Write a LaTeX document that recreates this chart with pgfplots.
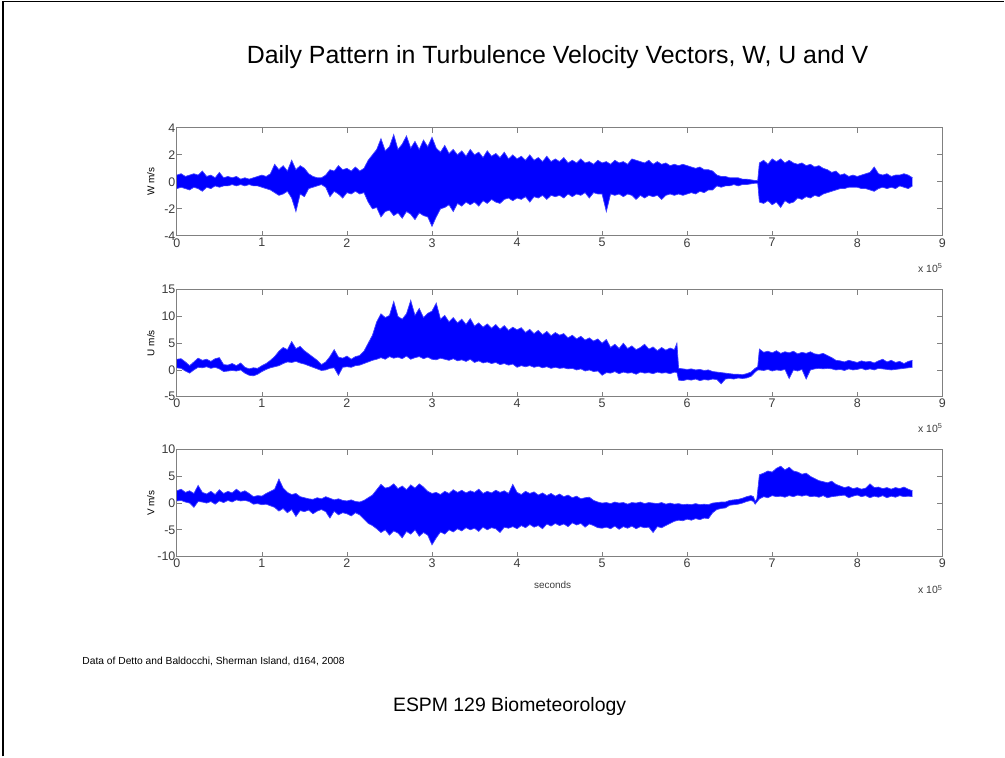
\documentclass[border=0pt]{standalone}
\usepackage{pgfplots}
\pgfplotsset{compat=1.18}
\usepackage{pgfplotstable}
\usepgfplotslibrary{fillbetween}
\usepackage{fontspec}
\setmainfont{Liberation Sans}

% envelopes, x in units of 1e5 s
\pgfplotstableread{
x hi lo
0.00 0.5 -0.5
0.05 0.6 -0.4
0.10 0.4 -0.5
0.15 0.5 -0.6
0.20 0.6 -0.4
0.25 0.5 -0.5
0.30 0.8 -0.7
0.35 0.4 -0.4
0.40 0.5 -0.5
0.45 0.3 -0.3
0.50 0.7 -0.4
0.55 0.3 -0.3
0.60 0.4 -0.3
0.65 0.3 -0.2
0.70 0.4 -0.3
0.75 0.2 -0.2
0.80 0.3 -0.3
0.85 0.2 -0.2
0.90 0.3 -0.3
0.95 0.4 -0.3
1.00 0.5 -0.4
1.05 0.4 -0.5
1.10 0.6 -0.6
1.15 1.3 -0.8
1.20 0.9 -1.0
1.25 1.2 -0.9
1.30 0.8 -0.7
1.35 1.6 -1.2
1.40 0.9 -2.2
1.45 1.2 -0.9
1.50 1.0 -1.1
1.55 0.6 -0.5
1.60 0.4 -0.4
1.65 0.3 -0.3
1.70 0.3 -0.2
1.75 0.5 -0.4
1.80 0.9 -1.1
1.85 0.8 -0.7
1.90 1.2 -0.9
1.95 0.9 -1.2
2.00 1.0 -0.8
2.05 0.8 -0.9
2.10 1.1 -0.7
2.15 0.8 -0.9
2.20 1.0 -0.8
2.25 1.6 -1.5
2.30 2.0 -2.0
2.35 2.4 -1.9
2.40 3.2 -2.6
2.45 2.3 -2.2
2.50 2.6 -2.1
2.55 3.5 -2.5
2.60 2.4 -2.3
2.65 2.8 -2.7
2.70 3.4 -2.2
2.75 2.5 -2.4
2.80 3.0 -2.8
2.85 2.4 -2.3
2.90 3.1 -2.5
2.95 2.6 -2.6
3.00 3.3 -3.3
3.05 2.5 -2.6
3.10 2.2 -2.0
3.15 2.7 -1.9
3.20 2.1 -1.7
3.25 2.4 -2.2
3.30 2.0 -1.6
3.35 2.3 -1.8
3.40 1.9 -1.5
3.45 2.4 -1.7
3.50 2.0 -1.5
3.55 2.2 -1.8
3.60 1.8 -1.4
3.65 2.3 -1.6
3.70 1.9 -1.3
3.75 2.1 -1.5
3.80 1.8 -1.6
3.85 2.2 -1.3
3.90 1.7 -1.2
3.95 2.0 -1.4
4.00 1.7 -1.2
4.05 1.9 -1.3
4.10 1.6 -1.1
4.15 2.0 -1.5
4.20 1.6 -1.1
4.25 1.8 -1.2
4.30 1.5 -1.0
4.35 1.9 -1.3
4.40 1.5 -1.0
4.45 1.7 -1.1
4.50 1.5 -1.0
4.55 1.8 -1.2
4.60 1.4 -0.9
4.65 1.6 -1.1
4.70 1.4 -0.9
4.75 1.7 -1.0
4.80 1.4 -0.8
4.85 1.5 -1.2
4.90 1.3 -0.8
4.95 1.6 -0.9
5.00 1.4 -0.9
5.05 1.5 -2.2
5.10 1.3 -0.9
5.15 1.6 -1.0
5.20 1.4 -0.9
5.25 1.5 -1.1
5.30 1.3 -0.9
5.35 1.7 -1.0
5.40 1.6 -1.3
5.45 1.5 -1.0
5.50 1.4 -1.2
5.55 1.6 -1.0
5.60 1.3 -1.1
5.65 1.5 -1.0
5.70 1.3 -1.3
5.75 1.4 -1.0
5.80 1.2 -0.9
5.85 1.3 -1.0
5.90 1.2 -0.9
5.95 1.3 -1.0
6.00 1.2 -0.9
6.05 1.1 -0.8
6.10 1.0 -0.9
6.15 1.1 -0.7
6.20 0.9 -0.8
6.25 0.9 -0.6
6.30 0.8 -0.6
6.35 0.5 -0.3
6.40 0.4 -0.4
6.45 0.4 -0.3
6.50 0.3 -0.3
6.55 0.3 -0.2
6.60 0.3 -0.3
6.65 0.2 -0.2
6.70 0.2 -0.2
6.75 0.15 -0.15
6.80 0.1 -0.1
6.83 0.1 -0.1
6.85 1.4 -1.5
6.90 1.6 -1.6
6.95 1.3 -1.4
7.00 1.7 -1.7
7.05 1.5 -1.5
7.10 1.7 -1.9
7.15 1.4 -1.4
7.20 1.6 -1.6
7.25 1.4 -1.5
7.30 1.3 -1.2
7.35 1.4 -1.3
7.40 1.2 -1.1
7.45 1.3 -1.2
7.50 1.1 -1.0
7.55 1.2 -1.1
7.60 1.0 -0.9
7.65 0.9 -0.8
7.70 0.7 -0.7
7.75 0.8 -0.6
7.80 0.5 -0.5
7.85 0.6 -0.5
7.90 0.4 -0.4
7.95 0.5 -0.4
8.00 0.4 -0.4
8.05 0.5 -0.5
8.10 0.6 -0.5
8.15 0.7 -0.6
8.20 1.1 -0.7
8.25 0.6 -0.5
8.30 0.5 -0.4
8.35 0.6 -0.5
8.40 0.4 -0.4
8.45 0.5 -0.5
8.50 0.5 -0.3
8.55 0.6 -0.4
8.60 0.5 -0.5
8.65 0.3 -0.3
}\Wdata

\pgfplotstableread{
x hi lo
0.00 2.0 0.4
0.05 2.1 0.3
0.10 1.5 -0.2
0.15 0.8 -0.6
0.20 1.5 0.0
0.25 2.2 0.5
0.30 1.8 0.4
0.35 2.0 0.6
0.40 1.6 0.3
0.45 2.1 0.5
0.50 2.3 0.2
0.55 1.0 -0.3
0.60 0.9 -0.2
0.65 1.2 -0.1
0.70 0.8 -0.2
0.75 1.3 0.0
0.80 0.5 -0.6
0.85 0.2 -1.0
0.90 0.4 -1.1
0.95 0.3 -0.8
1.00 0.8 -0.3
1.05 1.2 0.1
1.10 1.8 0.4
1.15 2.5 0.6
1.20 3.5 0.8
1.25 4.2 1.2
1.30 3.8 1.5
1.35 5.3 1.4
1.40 4.0 1.6
1.45 4.4 1.3
1.50 3.6 1.1
1.55 3.0 0.8
1.60 2.4 0.5
1.65 1.8 0.2
1.70 1.0 -0.1
1.75 1.5 0.0
1.80 2.5 0.3
1.85 3.8 0.4
1.90 2.4 -1.0
1.95 2.2 0.5
2.00 2.6 0.6
2.05 2.0 0.5
2.10 2.5 0.8
2.15 2.7 0.9
2.20 3.5 1.2
2.25 5.0 1.5
2.30 6.5 1.8
2.35 9.0 2.0
2.40 10.5 2.3
2.45 9.8 2.0
2.50 10.2 2.5
2.55 12.8 2.2
2.60 10.0 2.4
2.65 9.5 2.1
2.70 10.5 2.6
2.75 13.0 2.0
2.80 10.2 2.3
2.85 11.5 2.5
2.90 9.8 2.1
2.95 10.6 2.4
3.00 11.0 2.0
3.05 12.5 1.9
3.10 9.5 2.2
3.15 10.2 2.0
3.20 9.0 1.8
3.25 9.8 2.1
3.30 8.8 1.7
3.35 9.5 1.9
3.40 8.5 1.6
3.45 9.6 2.0
3.50 8.2 1.4
3.55 8.8 1.7
3.60 8.0 1.3
3.65 8.6 1.5
3.70 7.8 1.2
3.75 8.5 1.4
3.80 7.6 1.0
3.85 8.3 1.2
3.90 7.4 0.9
3.95 8.0 1.1
4.00 7.5 0.5
4.05 7.9 0.8
4.10 7.0 0.6
4.15 7.6 0.8
4.20 6.8 0.5
4.25 7.4 0.7
4.30 6.6 0.4
4.35 7.2 0.6
4.40 6.4 0.3
4.45 7.0 0.5
4.50 6.5 0.3
4.55 6.8 0.4
4.60 6.0 0.2
4.65 6.5 0.3
4.70 5.8 0.0
4.75 6.3 0.2
4.80 5.6 -0.2
4.85 6.0 0.0
4.90 5.4 -0.3
4.95 5.8 -0.2
5.00 5.0 -1.0
5.05 5.7 -0.5
5.10 4.2 -0.6
5.15 4.8 -0.3
5.20 4.0 -0.7
5.25 5.0 -0.4
5.30 4.0 -0.6
5.35 4.5 -0.5
5.40 3.8 -0.8
5.45 4.2 -0.4
5.50 4.8 -0.6
5.55 3.9 -0.5
5.60 4.3 -0.7
5.65 3.6 -0.4
5.70 4.2 -0.6
5.75 3.7 -0.5
5.80 4.1 -0.7
5.85 3.8 -0.4
5.88 5.0 -0.5
5.90 0.3 -1.9
5.95 0.2 -2.0
6.00 0.1 -1.8
6.05 0.2 -1.9
6.10 0.0 -1.7
6.15 0.1 -2.0
6.20 -0.1 -1.8
6.25 0.0 -1.9
6.30 -0.3 -1.7
6.35 -0.4 -1.8
6.40 -0.5 -2.6
6.45 -0.6 -1.7
6.50 -0.7 -1.6
6.55 -0.8 -1.7
6.60 -0.8 -1.5
6.65 -0.9 -1.6
6.70 -0.7 -1.5
6.75 -0.4 -1.2
6.80 0.3 -0.4
6.83 0.6 0.0
6.85 3.9 0.0
6.90 3.3 -0.1
6.95 3.5 0.1
7.00 3.2 -0.2
7.05 3.6 0.0
7.10 3.1 -0.1
7.15 3.4 0.1
7.20 3.2 -1.6
7.25 3.5 0.0
7.30 3.0 -0.2
7.35 3.3 0.1
7.40 3.1 -1.7
7.45 3.4 0.0
7.50 3.0 0.2
7.55 2.9 0.3
7.60 3.1 0.2
7.65 2.7 0.3
7.70 2.3 0.2
7.75 1.8 0.0
7.80 1.7 0.1
7.85 1.5 -0.1
7.90 1.8 0.2
7.95 1.6 0.0
8.00 1.4 0.1
8.05 1.7 0.3
8.10 1.5 0.0
8.15 1.6 0.2
8.20 1.3 0.0
8.25 1.7 0.3
8.30 2.0 0.2
8.35 1.5 0.1
8.40 1.8 0.0
8.45 1.4 0.1
8.50 1.6 0.2
8.55 1.2 0.3
8.60 1.6 0.4
8.65 1.8 0.5
}\Udata

\pgfplotstableread{
x hi lo
0.00 2.3 0.4
0.05 2.6 0.5
0.10 2.0 0.2
0.15 2.3 0.0
0.20 1.8 -0.8
0.25 3.3 0.3
0.30 2.0 0.2
0.35 1.7 0.0
0.40 2.2 0.3
0.45 1.6 -0.2
0.50 2.5 0.4
0.55 1.8 0.1
0.60 2.2 0.5
0.65 1.9 0.2
0.70 2.6 0.6
0.75 2.0 0.4
0.80 2.3 0.5
0.85 1.8 0.3
0.90 1.2 -0.2
0.95 1.4 -0.1
1.00 1.3 -0.3
1.05 1.8 -0.2
1.10 2.2 -0.5
1.15 2.6 -0.8
1.20 4.5 -1.5
1.25 2.8 -1.0
1.30 2.0 -1.8
1.35 1.6 -1.2
1.40 1.8 -2.5
1.45 1.2 -1.4
1.50 1.0 -1.6
1.55 0.8 -1.3
1.60 0.7 -2.0
1.65 1.0 -1.5
1.70 0.8 -1.2
1.75 1.2 -1.6
1.80 0.9 -2.8
1.85 0.6 -1.5
1.90 0.8 -2.2
1.95 0.5 -1.8
2.00 0.4 -2.0
2.05 0.6 -2.4
2.10 0.3 -1.8
2.15 0.2 -2.2
2.20 0.5 -3.0
2.25 1.0 -3.8
2.30 1.5 -4.2
2.35 2.5 -4.8
2.40 3.5 -5.5
2.45 2.8 -5.0
2.50 3.0 -6.0
2.55 3.6 -5.2
2.60 2.7 -5.6
2.65 3.2 -6.5
2.70 2.5 -5.3
2.75 3.4 -5.8
2.80 2.8 -5.0
2.85 3.6 -6.2
2.90 3.0 -5.5
2.95 2.2 -6.0
3.00 1.8 -7.8
3.05 2.0 -6.5
3.10 1.6 -5.4
3.15 2.2 -5.8
3.20 1.8 -5.0
3.25 2.5 -5.4
3.30 2.0 -4.8
3.35 2.4 -5.2
3.40 1.9 -4.6
3.45 2.3 -5.0
3.50 2.0 -4.7
3.55 2.6 -5.3
3.60 1.8 -4.5
3.65 2.2 -5.0
3.70 1.9 -4.6
3.75 2.4 -4.8
3.80 2.0 -5.5
3.85 2.3 -4.5
3.90 1.8 -4.7
3.95 3.5 -4.4
4.00 2.0 -4.8
4.05 1.6 -4.2
4.10 2.2 -4.6
4.15 1.8 -4.0
4.20 2.1 -4.5
4.25 1.5 -4.2
4.30 1.9 -4.8
4.35 1.4 -3.9
4.40 1.8 -4.3
4.45 1.3 -3.8
4.50 1.7 -4.2
4.55 1.2 -3.9
4.60 1.5 -4.4
4.65 1.0 -3.7
4.70 1.3 -4.1
4.75 0.8 -3.8
4.80 1.0 -4.5
4.85 1.1 -3.9
4.90 0.5 -4.2
4.95 0.2 -4.6
5.00 0.0 -4.7
5.05 0.1 -4.5
5.10 -0.1 -4.8
5.15 0.2 -4.3
5.20 0.0 -4.9
5.25 0.1 -4.4
5.30 -0.2 -4.7
5.35 0.1 -4.3
5.40 0.0 -4.8
5.45 0.2 -4.4
5.50 -0.1 -4.6
5.55 0.1 -4.5
5.60 0.0 -5.5
5.65 -0.1 -4.4
5.70 0.1 -4.6
5.75 -0.2 -4.2
5.80 0.0 -3.8
5.85 -0.2 -3.4
5.90 -0.1 -3.2
5.95 -0.3 -3.3
6.00 -0.2 -3.0
6.05 -0.3 -3.2
6.10 -0.1 -2.9
6.15 -0.3 -3.1
6.20 -0.2 -2.8
6.25 -0.3 -2.9
6.30 0.0 -1.8
6.35 0.1 -1.2
6.40 0.2 -1.0
6.45 0.2 -0.9
6.50 0.5 -0.4
6.55 0.6 -0.3
6.60 0.7 -0.2
6.65 0.9 0.0
6.70 1.2 0.3
6.75 1.4 0.5
6.78 1.2 0.3
6.80 0.3 -0.2
6.82 0.8 0.2
6.85 5.3 0.8
6.90 5.6 1.2
6.95 6.0 1.0
7.00 5.8 1.4
7.05 6.5 1.2
7.10 6.9 1.3
7.15 6.2 1.1
7.20 6.7 1.4
7.25 6.0 1.2
7.30 5.8 1.5
7.35 5.4 1.3
7.40 5.6 1.5
7.45 5.0 1.2
7.50 4.6 1.3
7.55 4.2 1.1
7.60 4.0 1.4
7.65 3.8 1.0
7.70 4.1 1.2
7.75 3.5 1.3
7.80 3.2 1.4
7.85 2.9 1.5
7.90 3.1 1.0
7.95 2.7 1.3
8.00 2.9 1.5
8.05 2.6 1.2
8.10 2.8 1.4
8.15 3.6 1.0
8.20 2.9 1.3
8.25 3.0 1.1
8.30 2.7 1.4
8.35 2.9 1.0
8.40 2.6 1.3
8.45 2.9 1.1
8.50 2.7 1.4
8.55 3.0 1.2
8.60 2.6 1.3
8.65 2.3 1.2
}\Vdata

\definecolor{axgray}{RGB}{128,128,128}
\definecolor{lblgray}{RGB}{60,60,60}

\pgfplotsset{
  panel/.style={
    anchor=south west, scale only axis, width=766bp,
    xmin=0, xmax=9, xtick={0,...,9},
    axis line style={axgray, line width=0.8bp},
    tick style={axgray, line width=0.8bp},
    tick align=inside, major tick length=5bp,
    ticklabel style={font=\fontsize{12.5}{14}\selectfont, text=lblgray},
    yticklabel style={xshift=2bp},
    /pgf/number format/assume math mode=true,
    ylabel style={font=\fontsize{12}{14}\selectfont, text=lblgray},
    every axis y label/.style={at={(rel axis cs:0,0.5)}, xshift=-26bp, rotate=90, anchor=center},
    xticklabel style={yshift=1bp},
  },
  sig/.style={blue!75, line width=0.7bp},
}

\begin{document}
\begin{tikzpicture}[x=1bp, y=1bp]
\path (0,0) rectangle (1005,757);
\draw[line width=1.6bp] (3,0) -- (3,755.5) -- (1005,755.5);

\node[font=\fontsize{25}{28}\selectfont] at (558,700) {Daily Pattern in Turbulence Velocity Vectors, W, U and V};

% W
\begin{axis}[panel, at={(177bp,521bp)}, height=108bp,
  ymin=-4, ymax=4, ytick={-4,-2,0,2,4}, ylabel={W m/s}]
\addplot[sig, name path=wh] table[x=x, y=hi] {\Wdata};
\addplot[sig, name path=wl] table[x=x, y=lo] {\Wdata};
\addplot[blue] fill between[of=wh and wl];
\end{axis}
\node[font=\fontsize{10.5}{12}\selectfont, text=lblgray] at (931,489) {x 10\textsuperscript{5}};

% U
\begin{axis}[panel, at={(177bp,360bp)}, height=107bp,
  ymin=-5, ymax=15, ytick={-5,0,5,10,15}, ylabel={U m/s}]
\addplot[sig, name path=uh] table[x=x, y=hi] {\Udata};
\addplot[sig, name path=ul] table[x=x, y=lo] {\Udata};
\addplot[blue] fill between[of=uh and ul];
\end{axis}
\node[font=\fontsize{10.5}{12}\selectfont, text=lblgray] at (931,329) {x 10\textsuperscript{5}};

% V
\begin{axis}[panel, at={(177bp,200bp)}, height=107bp,
  ymin=-10, ymax=10, ytick={-10,-5,0,5,10}, ylabel={V m/s}]
\addplot[sig, name path=vh] table[x=x, y=hi] {\Vdata};
\addplot[sig, name path=vl] table[x=x, y=lo] {\Vdata};
\addplot[blue] fill between[of=vh and vl];
\end{axis}
\node[font=\fontsize{10.5}{12}\selectfont, text=lblgray] at (931,167) {x 10\textsuperscript{5}};
\node[font=\fontsize{10}{12}\selectfont, text=lblgray] at (553,172) {seconds};

\node[anchor=west, font=\fontsize{10.3}{12}\selectfont] at (79,95) {Data of Detto and Baldocchi, Sherman Island, d164, 2008};
\node[font=\fontsize{19.5}{22}\selectfont] at (510,50) {ESPM 129 Biometeorology};
\end{tikzpicture}
\end{document}
